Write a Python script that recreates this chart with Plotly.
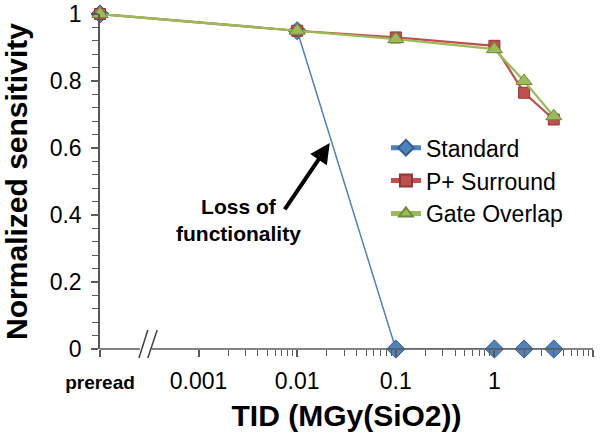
import plotly.graph_objects as go

# ---- data ----
x_labels = ["preread", "0.01", "0.1", "1", "2", "4"]
x_vals = [1e-4, 0.01, 0.1, 1, 2, 4]          # preread placed at 1e-4 (left of axis break)
standard = [1.0, 0.95, 0.0, 0.0, 0.0, 0.0]
p_surround = [1.0, 0.95, 0.93, 0.905, 0.765, 0.685]
gate_overlap = [1.0, 0.95, 0.925, 0.895, 0.80, 0.695]

tick_vals = [1e-4, 1e-3, 1e-2, 1e-1, 1, 10]
tick_text = ["<span style='font-size:19px'><b>preread</b></span>", "0.001", "0.01", "0.1", "1", "10"]
minor_x = [m * d for d in (1e-3, 1e-2, 1e-1, 1) for m in range(2, 10)]

FONT = "Liberation Sans, Arial, sans-serif"
AX = "#595959"

fig = go.Figure()
fig.add_trace(go.Scatter(
    x=x_vals, y=standard, name="Standard", mode="lines+markers",
    line=dict(color="#4F81BD", width=1.5),
    marker=dict(symbol="diamond", size=14, color="#4F81BD",
                line=dict(color="#385D8A", width=1)),
    cliponaxis=False))
fig.add_trace(go.Scatter(
    x=x_vals, y=p_surround, name="P+ Surround", mode="lines+markers",
    line=dict(color="#C0504D", width=2.25),
    marker=dict(symbol="square", size=11, color="#C0504D",
                line=dict(color="#8C3836", width=1)),
    cliponaxis=False))
fig.add_trace(go.Scatter(
    x=x_vals, y=gate_overlap, name="Gate Overlap", mode="lines+markers",
    line=dict(color="#9BBB59", width=2.25),
    marker=dict(symbol="triangle-up", size=14, color="#9BBB59",
                line=dict(color="#71893F", width=1)),
    cliponaxis=False))

# axis line with break marks (domain coordinates)
for x0, x1 in [(0.0, 0.081), (0.105, 1.0)]:
    fig.add_shape(type="line", xref="x domain", yref="y domain",
                  x0=x0, x1=x1, y0=0, y1=0, line=dict(color=AX, width=1.5))
for x0, x1 in [(0.079, 0.097), (0.097, 0.116)]:
    fig.add_shape(type="line", xref="x domain", yref="y domain",
                  x0=x0, x1=x1, y0=-0.027, y1=0.057, line=dict(color="#404040", width=1.5))

# annotation
fig.add_annotation(x=-1.67, y=0.615, xref="x", yref="y", ax=-46, ay=68,
                   text="", showarrow=True, arrowhead=2, arrowsize=1.0,
                   arrowwidth=4, arrowcolor="black")
fig.add_annotation(x=-2.6, y=0.385, xref="x", yref="y", showarrow=False,
                   text="<b>Loss of<br>functionality</b>", align="center",
                   font=dict(family=FONT, size=21, color="black"))

fig.update_layout(
    width=604, height=432,
    margin=dict(l=100, r=11, t=14, b=83),
    paper_bgcolor="white", plot_bgcolor="white",
    font=dict(family=FONT, color="black"),
    showlegend=True,
    legend=dict(x=0.58, y=0.665, xanchor="left", yanchor="top",
                font=dict(family=FONT, size=23, color="black"),
                bgcolor="rgba(0,0,0,0)", tracegroupgap=0, itemsizing="constant",
                itemwidth=30),
    xaxis=dict(
        type="log", range=[-4, 1], showgrid=False, zeroline=False, showline=False,
        automargin=False,
        tickmode="array", tickvals=tick_vals, ticktext=tick_text,
        ticks="outside", ticklen=7, tickcolor=AX, tickwidth=1.5,
        minor=dict(tickmode="array", tickvals=minor_x, ticks="outside",
                   ticklen=6, tickcolor=AX, tickwidth=1.3, showgrid=False),
        tickfont=dict(family=FONT, size=23, color="black"), ticklabelstandoff=4,
        title=dict(text="<b>TID (MGy(SiO2))</b>", font=dict(family=FONT, size=30, color="black"),
                   standoff=12)),
    yaxis=dict(
        range=[0, 1], showgrid=False, zeroline=False, showline=True,
        automargin=False,
        linecolor=AX, linewidth=1.5,
        tickmode="linear", tick0=0, dtick=0.2,
        ticks="outside", ticklen=7, tickcolor=AX, tickwidth=1.5,
        minor=dict(dtick=0.04, tick0=0, ticks="outside", ticklen=6,
                   tickcolor=AX, tickwidth=1.3, showgrid=False),
        tickfont=dict(family=FONT, size=23, color="black"), ticklabelstandoff=5,
        title=dict(text="<b>Normalized sensitivity</b>", font=dict(family=FONT, size=30, color="black"),
                   standoff=19)),
)

fig.write_html("out.html")
